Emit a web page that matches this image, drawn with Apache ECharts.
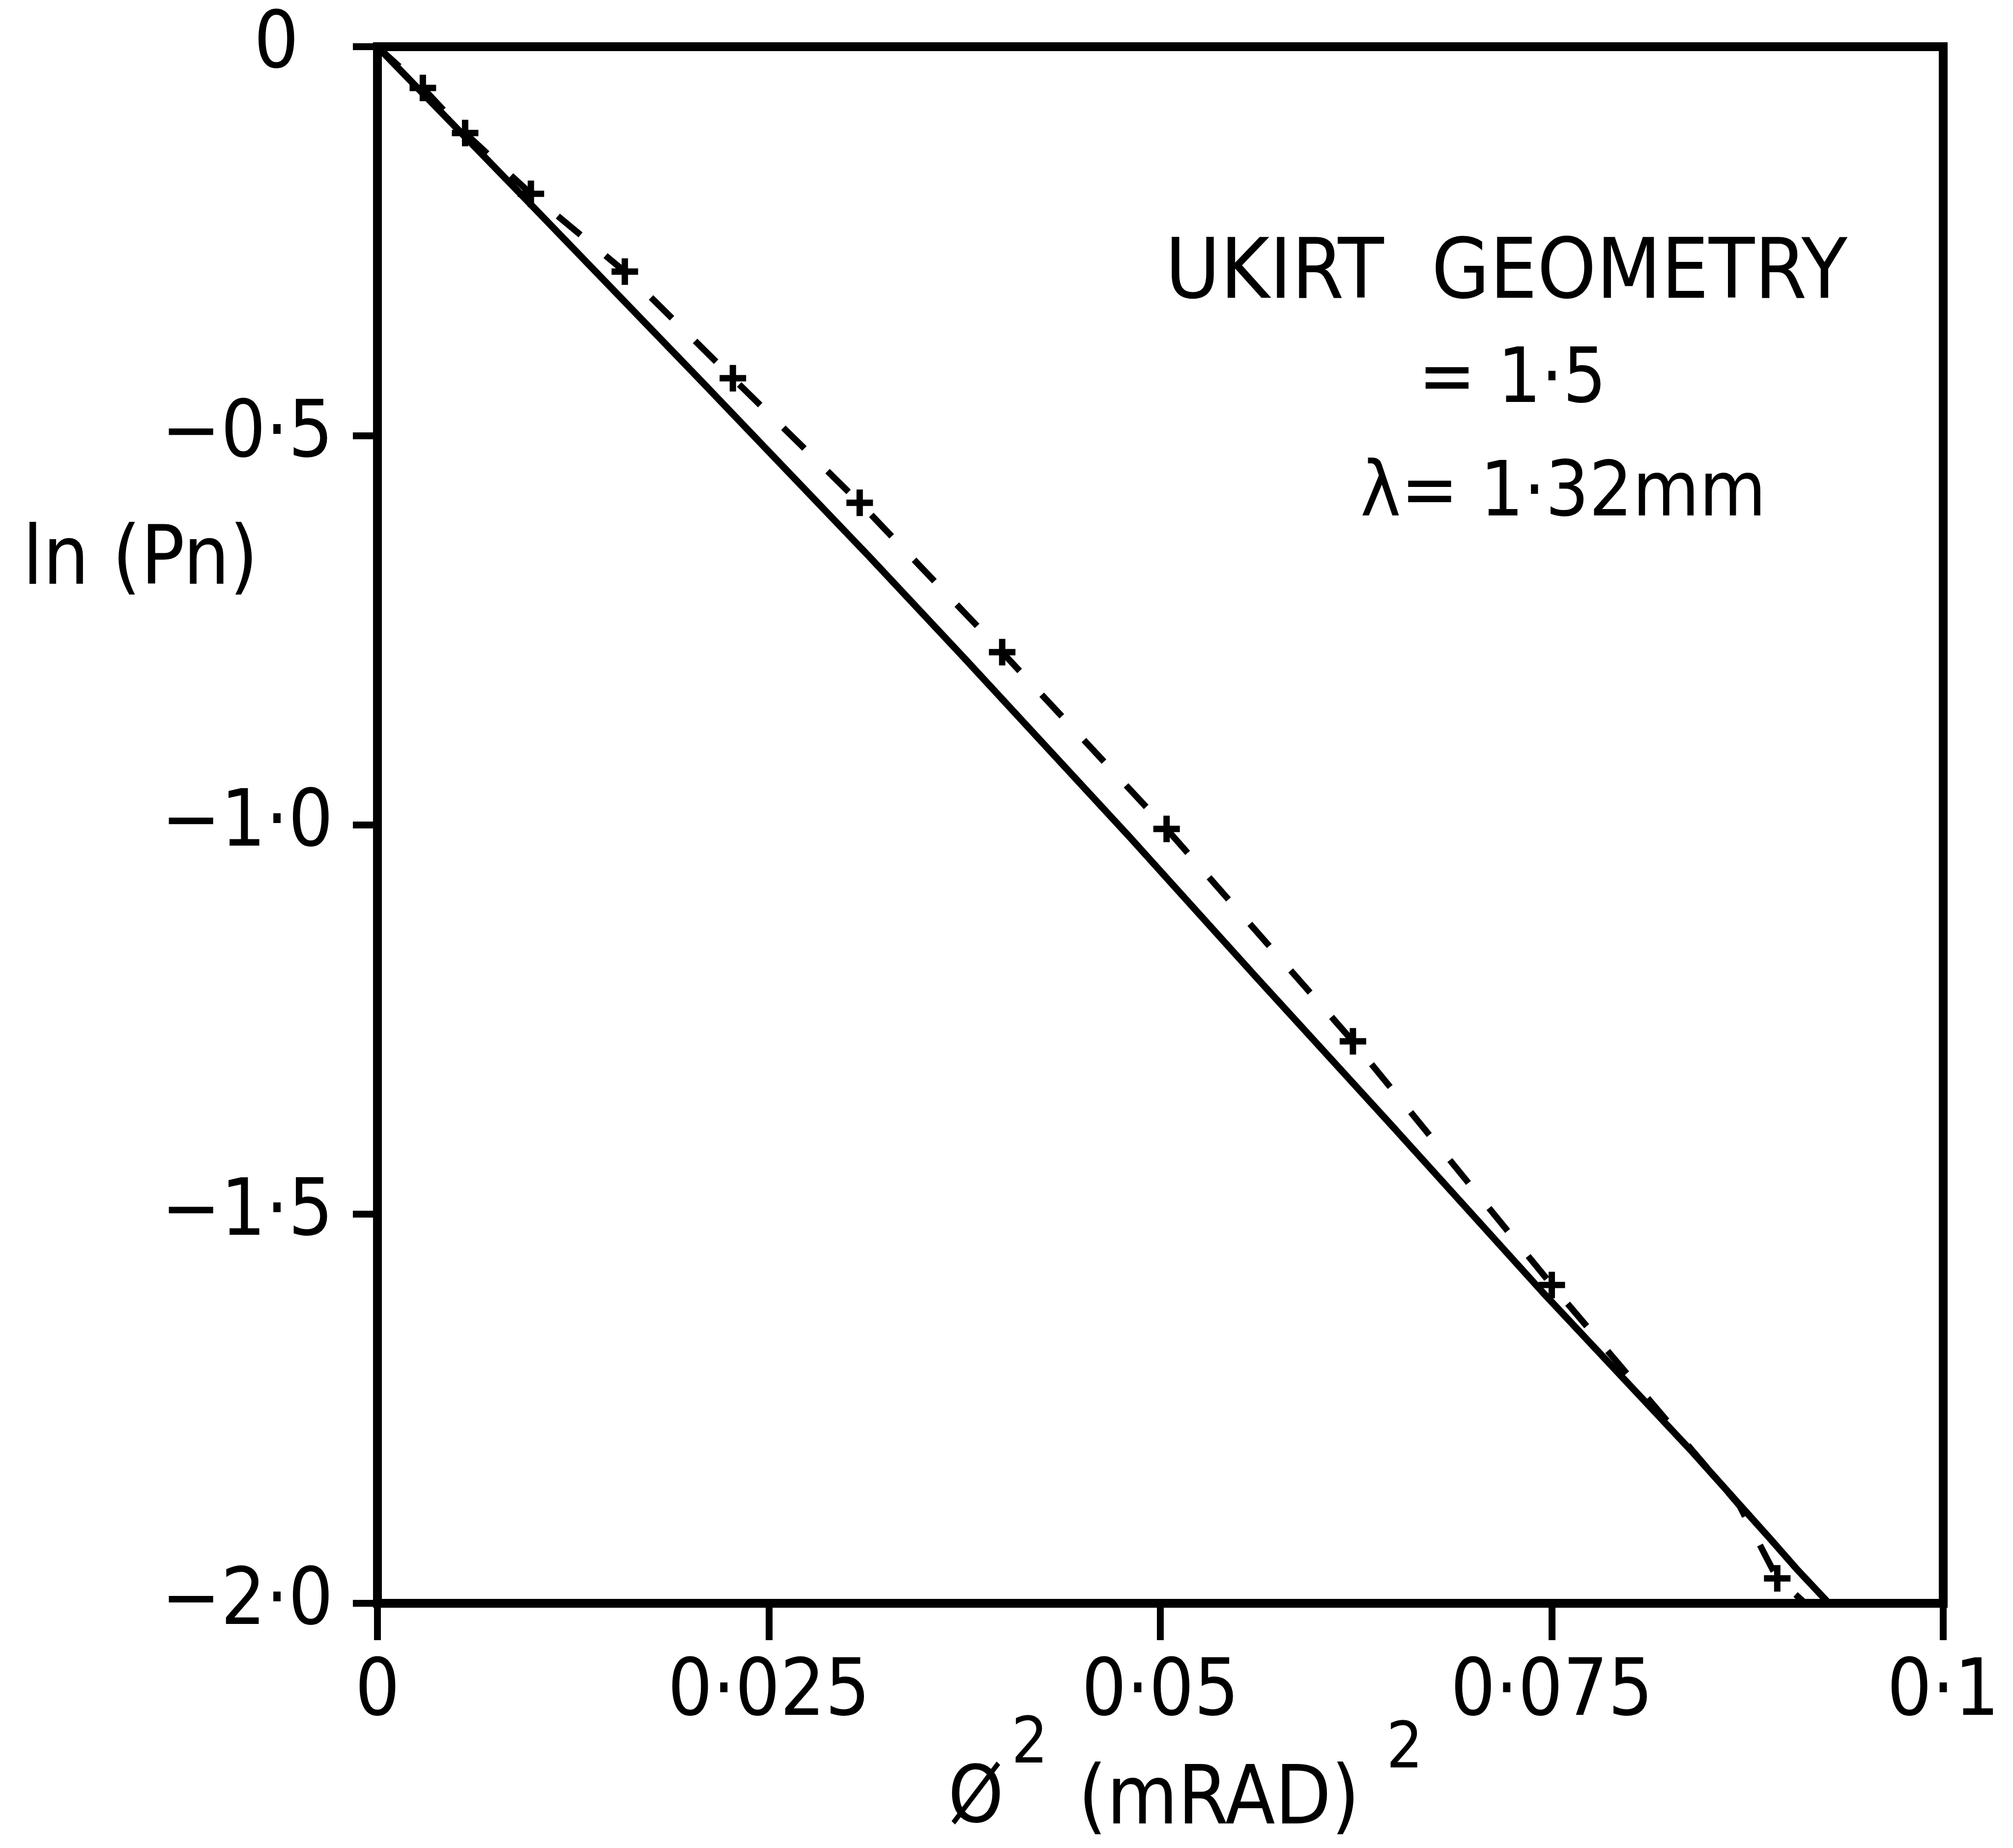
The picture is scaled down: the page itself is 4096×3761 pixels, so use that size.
<!DOCTYPE html>
<html>
<head>
<meta charset="utf-8">
<script src="https://cdn.jsdelivr.net/npm/echarts@6/dist/echarts.min.js"></script>
<style>
  html, body { margin: 0; padding: 0; background: #ffffff; }
  #chart { width: 4096px; height: 3761px; }
</style>
</head>
<body>
<div id="chart"></div>
<script>
// ln(Pn) against phi^2 (mrad)^2, UKIRT geometry, lambda = 1.32 mm

const xTickLabels = ['0', '0·025', '0·05', '0·075', '0·1'];
const yTickLabels = ['−2·0', '−1·5', '−1·0', '−0·5', '0'];

// solid curve
const solidX = [0, 0.0099, 0.0207, 0.0314, 0.0375, 0.0482, 0.0561, 0.0650, 0.0744, 0.0840, 0.0889, 0.0906, 0.0927];
const solidY = [0, -0.205, -0.430, -0.655, -0.786, -1.019, -1.195, -1.391, -1.600, -1.806, -1.916, -1.955, -2.000];

// dashed curve, '+' where marked
const dashedX = [0, 0.0029, 0.0056, 0.0098, 0.0158, 0.0227, 0.0308, 0.0399, 0.0504, 0.0623, 0.0750, 0.0798, 0.0870, 0.0894, 0.0912];
const dashedY = [0, -0.053, -0.111, -0.189, -0.289, -0.426, -0.586, -0.778, -1.005, -1.278, -1.591, -1.705, -1.875, -1.968, -2.000];
const dashedMarked = [false, true, true, true, true, true, true, true, true, true, true, false, false, true, false];

const FONT = "'DejaVu Sans Condensed', 'DejaVu Sans', sans-serif";
const PLUS = 'path://M3.8,0H6.2V3.8H10V6.2H6.2V10H3.8V6.2H0V3.8H3.8Z';

const chart = echarts.init(document.getElementById('chart'), null, { renderer: 'canvas' });

const solidData = solidX.map((x, i) => [x, solidY[i]]);
const dashedData = dashedX.map((x, i) => ({
  value: [x, dashedY[i]],
  symbol: dashedMarked[i] ? PLUS : 'none'
}));

function txt(text, x, y, size) {
  return {
    type: 'text',
    x: x, y: y,
    style: {
      text: text,
      fontFamily: FONT,
      fontSize: size,
      fill: '#000',
      align: 'left',
      verticalAlign: 'middle'
    }
  };
}

chart.setOption({
  backgroundColor: '#ffffff',
  animation: false,
  grid: {
    left: 768, right: 142, top: 95, bottom: 498,
    show: true,
    borderColor: '#000',
    borderWidth: 18,
    backgroundColor: 'transparent'
  },
  xAxis: {
    type: 'value',
    min: 0, max: 0.1, interval: 0.025,
    axisLine: { show: true, onZero: false, lineStyle: { color: '#000', width: 18 } },
    axisTick: { show: true, inside: false, length: 75, lineStyle: { color: '#000', width: 14 } },
    axisLabel: {
      show: true, margin: 105, color: '#000',
      fontFamily: FONT, fontSize: 160,
      formatter: (v, i) => xTickLabels[i]
    },
    splitLine: { show: false }
  },
  yAxis: {
    type: 'value',
    min: -2, max: 0, interval: 0.5,
    axisLine: { show: true, onZero: false, lineStyle: { color: '#000', width: 18 } },
    axisTick: { show: true, inside: false, length: 50, lineStyle: { color: '#000', width: 14 } },
    axisLabel: {
      show: true, margin: 90, color: '#000',
      fontFamily: FONT, fontSize: 160,
      formatter: (v, i) => (v === 0 ? '{z|' + yTickLabels[i] + '}' : yTickLabels[i]),
      rich: { z: { fontFamily: FONT, fontSize: 160, color: '#000', padding: [0, 70, 0, 0] } }
    },
    splitLine: { show: false }
  },
  series: [
    {
      type: 'line',
      data: solidData,
      symbol: 'none',
      lineStyle: { color: '#000', width: 14 },
      z: 3
    },
    {
      type: 'line',
      data: dashedData,
      showAllSymbol: true,
      symbolSize: 54,
      itemStyle: { color: '#000' },
      lineStyle: { color: '#000', width: 13, type: [60, 66] },
      z: 4
    }
  ],
  graphic: [
    txt('UKIRT  GEOMETRY', 2371, 562, 170),
    txt('= 1·5', 2886, 778, 155),
    txt('λ= 1·32mm', 2768, 1009, 155),
    txt('ln (Pn)', 46, 1145, 165),
    txt('Ø', 1929, 3666, 160),
    txt('2', 2058, 3553, 130),
    txt('(mRAD)', 2194, 3668, 165),
    txt('2', 2821, 3563, 130)
  ]
});
</script>
</body>
</html>
